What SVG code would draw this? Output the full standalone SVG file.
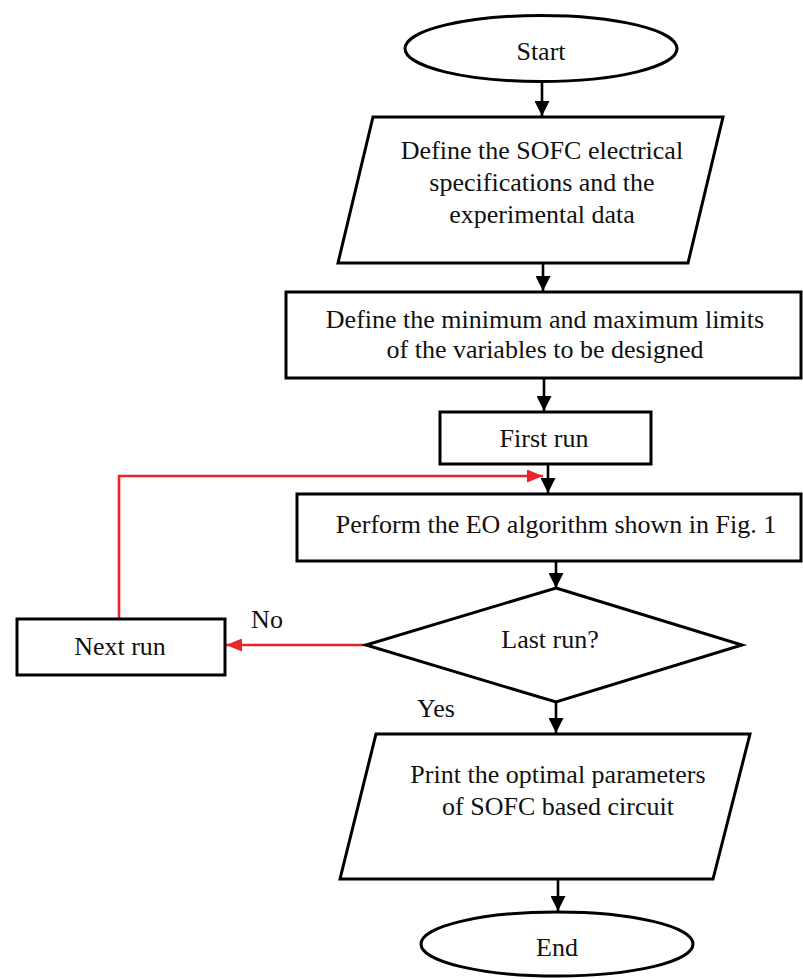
<svg xmlns="http://www.w3.org/2000/svg" width="803" height="979" viewBox="0 0 803 979">
  <style>
    .shape { fill: #ffffff; stroke: #000000; stroke-width: 3; stroke-linejoin: miter; }
    .lbl { font-family: "Liberation Serif", "Times New Roman", serif; font-size: 26px; fill: #111111; text-anchor: middle; }
    .flow { fill: none; stroke: #000000; stroke-width: 2.6; }
    .loop { fill: none; stroke: #e8262a; stroke-width: 2.6; }
  </style>
  <defs>
    <marker id="arrowBlack" markerUnits="userSpaceOnUse" markerWidth="15" markerHeight="15" refX="15" refY="7.5" orient="auto">
      <path d="M0,0 L15,7.5 L0,15 z" fill="#000000"/>
    </marker>
    <marker id="arrowRed" markerUnits="userSpaceOnUse" markerWidth="16" markerHeight="13" refX="16" refY="6.5" orient="auto">
      <path d="M0,0 L16,6.5 L0,13 z" fill="#e8262a"/>
    </marker>
  </defs>

  <rect width="803" height="979" fill="#ffffff"/>

  <g id="connectors">
    <line class="flow" x1="542" y1="82" x2="542" y2="116" marker-end="url(#arrowBlack)"/>
    <line class="flow" x1="543" y1="263" x2="543" y2="291" marker-end="url(#arrowBlack)"/>
    <line class="flow" x1="544" y1="378" x2="544" y2="411" marker-end="url(#arrowBlack)"/>
    <line class="flow" x1="548" y1="464" x2="548" y2="493" marker-end="url(#arrowBlack)"/>
    <line class="flow" x1="556" y1="561" x2="556" y2="588" marker-end="url(#arrowBlack)"/>
    <line class="flow" x1="556" y1="702" x2="556" y2="733" marker-end="url(#arrowBlack)"/>
    <line class="flow" x1="558" y1="879" x2="558" y2="911" marker-end="url(#arrowBlack)"/>
    <!-- "No" branch back to the loop -->
    <line class="loop" x1="366" y1="645" x2="226" y2="645" marker-end="url(#arrowRed)"/>
    <polyline class="loop" points="119,619 119,476 543,476" marker-end="url(#arrowRed)"/>
    <text class="lbl" x="267" y="628">No</text>
    <text class="lbl" x="436" y="717">Yes</text>
  </g>

  <g id="start">
    <ellipse class="shape" cx="541" cy="48.5" rx="136" ry="33"/>
    <text class="lbl" x="541" y="60">Start</text>
  </g>

  <g id="define-specs">
    <polygon class="shape" points="373,117 723,117 688,263 338,263"/>
    <text class="lbl" x="542" y="159">Define the SOFC electrical</text>
    <text class="lbl" x="542" y="191">specifications and the</text>
    <text class="lbl" x="542" y="223">experimental data</text>
  </g>

  <g id="define-limits">
    <rect class="shape" x="286" y="292" width="515" height="86"/>
    <text class="lbl" x="545" y="328">Define the minimum and maximum limits</text>
    <text class="lbl" x="545" y="358">of the variables to be designed</text>
  </g>

  <g id="first-run">
    <rect class="shape" x="440" y="412" width="211" height="52"/>
    <text class="lbl" x="544" y="447">First run</text>
  </g>

  <g id="perform-eo">
    <rect class="shape" x="297" y="494" width="504" height="67"/>
    <text class="lbl" x="556" y="533">Perform the EO algorithm shown in Fig. 1</text>
  </g>

  <g id="last-run">
    <polygon class="shape" points="556,588 742,645 556,702 366,645"/>
    <text class="lbl" x="550" y="648">Last run?</text>
  </g>

  <g id="next-run">
    <rect class="shape" x="17" y="619" width="208" height="56"/>
    <text class="lbl" x="120" y="655">Next run</text>
  </g>

  <g id="print-output">
    <polygon class="shape" points="376,734 750,734 713,879 340,879"/>
    <text class="lbl" x="558" y="783">Print the optimal parameters</text>
    <text class="lbl" x="558" y="815">of SOFC based circuit</text>
  </g>

  <g id="end">
    <ellipse class="shape" cx="557" cy="944" rx="136" ry="32"/>
    <text class="lbl" x="557" y="956">End</text>
  </g>
</svg>
